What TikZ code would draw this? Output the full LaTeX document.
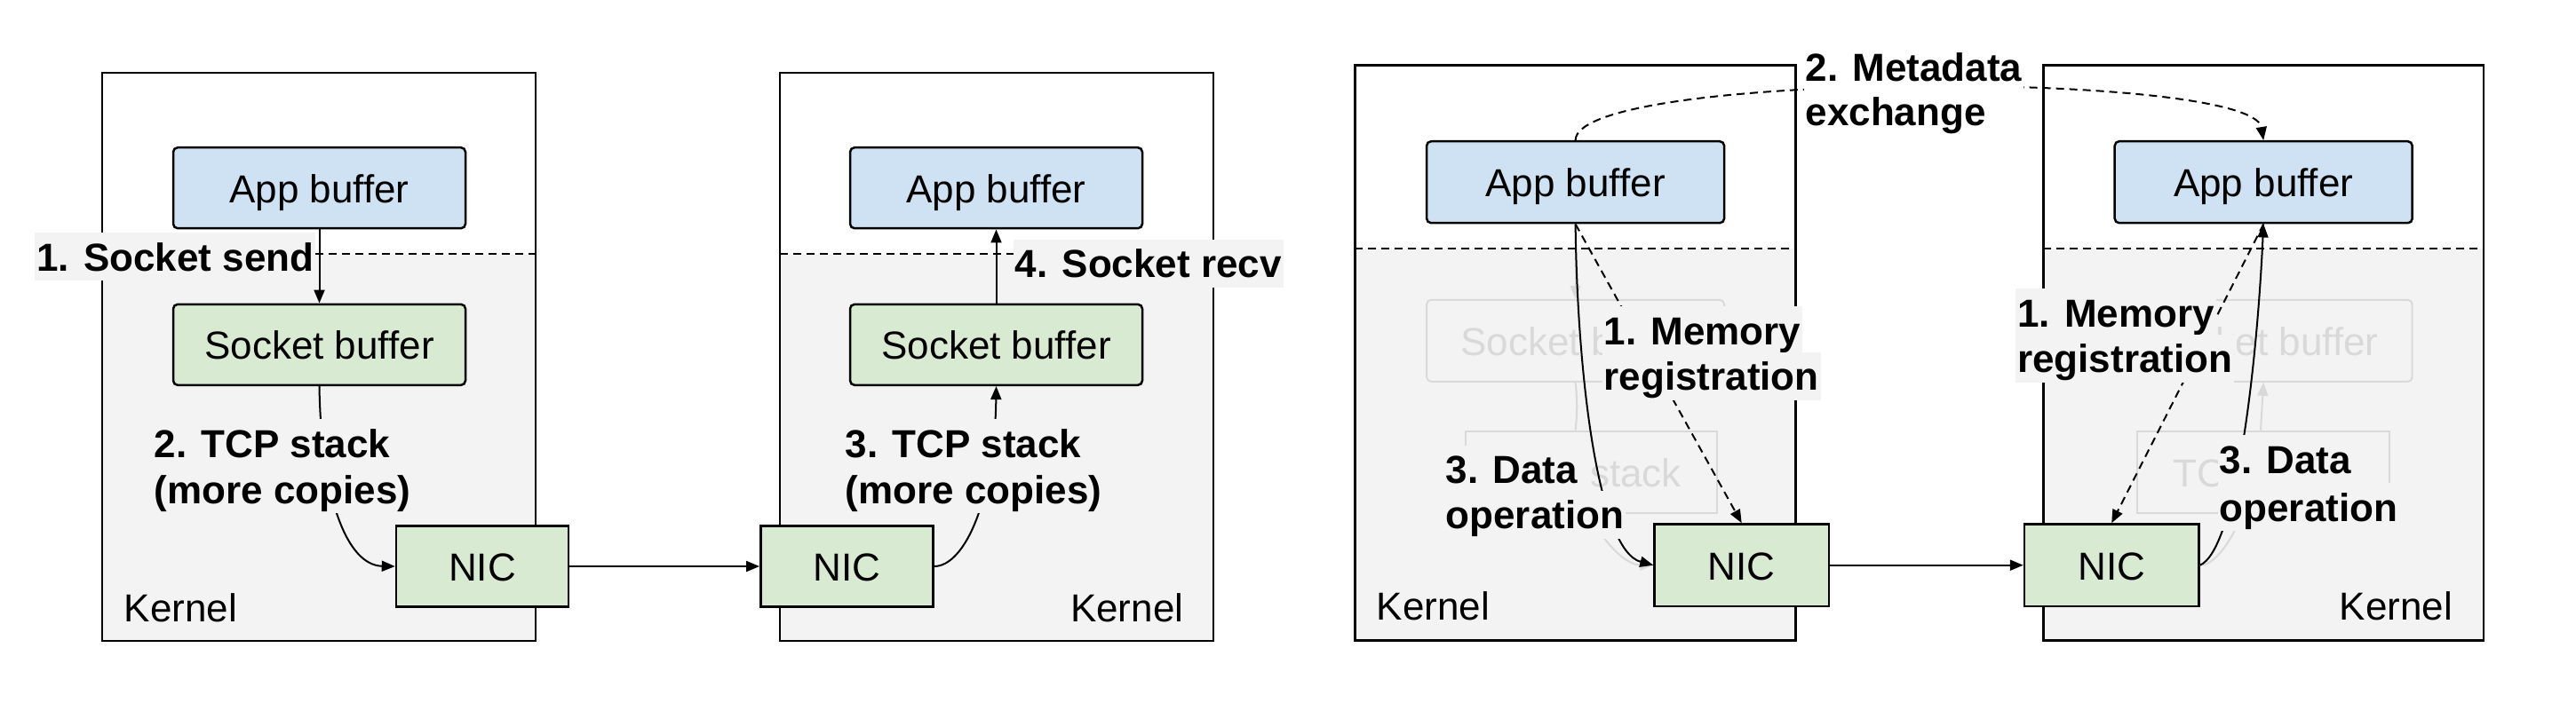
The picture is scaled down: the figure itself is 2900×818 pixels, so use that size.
\documentclass[tikz,border=0pt]{standalone}
\usepackage{fontspec}
\setmainfont{Liberation Sans}
\usetikzlibrary{arrows.meta}
\definecolor{kgray}{HTML}{F3F3F3}
\definecolor{appblue}{HTML}{CFE2F3}
\definecolor{nicgreen}{HTML}{D9EAD3}
\definecolor{fadec}{HTML}{D9D9D9}
\newcommand\fsz{\fontsize{13.2}{15.3}\selectfont}
\newcommand\kpanel[5]{%
  \fill[white] (#1,#2) rectangle (#3,#4);
  \fill[kgray] (#1,#5) rectangle (#3,#4);
  \draw[sepline] (#1,#5) -- (#3,#5);
  \draw[kframe] (#1,#2) rectangle (#3,#4);}
\begin{document}
\begin{tikzpicture}[x=0.3pt,y=-0.3pt,
  sepline/.style={line width=0.6pt, dash pattern=on 2.7pt off 1.8pt},
  kframe/.style={line width=0.75pt},
  bx/.style={draw=black, line width=0.75pt, inner sep=0pt, text height=12.6pt, text depth=2.7pt, font=\fsz},
  appbox/.style={bx, fill=appblue, rounded corners=1.5pt},
  sockbox/.style={bx, fill=nicgreen, rounded corners=1.5pt},
  nicbox/.style={bx, fill=nicgreen},
  fadebox/.style={bx, draw=fadec, text=fadec, line width=0.6pt},
  lbl/.style={font=\fsz\bfseries, anchor=base west, inner xsep=0.6pt, inner ysep=0pt, text height=12.9pt, text depth=3.3pt, fill=kgray},
  wlbl/.style={lbl, fill=white},
  klbl/.style={font=\fsz, inner sep=0pt},
  conn/.style={line width=0.6pt, -{Triangle[length=4.5pt,width=3.6pt]}},
  dconn/.style={conn, dash pattern=on 2.7pt off 1.8pt},
  fconn/.style={line width=0.6pt, draw=fadec},
  farrow/.style={fconn, -{Triangle[length=4.5pt,width=3.6pt]}},
  size12/.style={minimum width=98.7pt, minimum height=27.3pt},
  nic12/.style={minimum width=58.2pt, minimum height=27.3pt},
  size34/.style={minimum width=100.5pt, minimum height=27.6pt},
  nic34/.style={minimum width=58.9pt, minimum height=27.75pt},
  tcp34/.style={minimum width=85pt, minimum height=27.75pt}
]
\useasboundingbox (0,0) rectangle (2900,818);

% kernel panels
\kpanel{115}{82}{603}{722}{285.5}
\kpanel{878}{82}{1366}{722}{285.5}
\kpanel{1525.4}{73.5}{2021.4}{721.7}{279.7}
\kpanel{2300.4}{73.5}{2796}{721.7}{279.7}

% faded boxes (panels 3, 4)
\node[fadebox, size34, rounded corners=1.5pt] (sb3) at (1773.6,383.8) {Socket buffer};
\node[fadebox, tcp34] (tcp3) at (1791.3,531.8) {TCP stack};
\node[fadebox, size34, rounded corners=1.5pt] (sb4) at (2548.2,383.8) {Socket buffer};
\node[fadebox, tcp34] (tcp4) at (2548,531.8) {TCP stack};

% panel 1
\node[appbox, size12] (ab1) at (359.5,211.7) {App buffer};
\node[sockbox, size12] (sb1) at (359.5,388.3) {Socket buffer};
\node[nicbox, nic12] (nic1) at (543,638) {NIC};
\node[klbl, anchor=base west] (kl1) at (139,700) {Kernel};

% panel 2
\node[appbox, size12] (ab2) at (1121.5,211.7) {App buffer};
\node[sockbox, size12] (sb2) at (1121.5,388.3) {Socket buffer};
\node[nicbox, nic12] (nic2) at (953.3,638) {NIC};
\node[klbl, anchor=base east] (kl2) at (1333,700) {Kernel};

% panel 3
\node[appbox, size34] (ab3) at (1773.6,205.2) {App buffer};
\node[nicbox, nic34] (nic3) at (1960.7,636.7) {NIC};
\node[klbl, anchor=base west] (kl3) at (1549,698.5) {Kernel};

% panel 4
\node[appbox, size34] (ab4) at (2548.2,205.2) {App buffer};
\node[nicbox, nic34] (nic4) at (2377.2,636.7) {NIC};
\node[klbl, anchor=base east] (kl4) at (2761.6,698.5) {Kernel};

% faded connectors
\draw[farrow] (ab3.south) -- (sb3.north);
\draw[fconn] (sb3.south) to[bend left=6] (sb3.south |- tcp3.north);
\draw[farrow] (tcp3.south) .. controls +(9,27) and +(-32,0) .. (nic3.west);
\draw[fconn] (nic4.east) .. controls +(20,0) and +(-10,22) .. ([xshift=-6.9pt]tcp4.south);
\draw[farrow] ([xshift=-0.9pt]tcp4.north) -- (sb4.south);

% connectors panels 1-2
\draw[conn] (ab1.south) -- (sb1.north);
\draw[conn] (sb1.south) .. controls +(2,126) and +(-54,-1) .. (nic1.west);
\draw[conn] (nic1.east) -- (nic2.west);
\draw[conn] (nic2.east) .. controls +(35,0) and +(-1.5,126) .. (sb2.south);
\draw[conn] (sb2.north) -- (ab2.south);

% connectors panels 3-4
\draw[dconn] (ab3.north) .. controls +(1.4,-79) and +(-13,-79) .. (ab4.north);
\draw[conn] (ab3.south) .. controls +(2,169) and +(-62.5,-16.7) .. (nic3.west);
\draw[dconn] (ab3.south) -- (nic3.north);
\draw[conn] (nic3.east) -- (nic4.west);
\draw[dconn] (ab4.south) -- (nic4.north);
\draw[conn] (nic4.east) .. controls +(39.6,-16.7) and +(-8,169) .. (ab4.south);

% labels
\node[lbl] (l1a) at (38.5,305) {1. Socket send};
\node[lbl] (l2a) at (171,515) {2. TCP stack};
\node[lbl] (l2b) at (171,567) {(more copies)};
\node[lbl] (l3a) at (949,515) {3. TCP stack};
\node[lbl] (l3b) at (949,567) {(more copies)};
\node[lbl] (l4a) at (1140,312.8) {4. Socket recv};

\node[lbl] (m3a) at (1803,388) {1. Memory};
\node[lbl] (m3b) at (1803,439.5) {registration};
\node[lbl] (d3a) at (1625,544.6) {3. Data};
\node[lbl] (d3b) at (1625,595.8) {operation};
\node[lbl] (m4a) at (2268.5,368) {1. Memory};
\node[lbl] (m4b) at (2268.5,419.5) {registration};
\node[lbl] (d4a) at (2496,533) {3. Data};
\node[lbl] (d4b) at (2496,587) {operation};
\node[wlbl] (x1a) at (2030,91.7) {2. Metadata};
\node[wlbl] (x1b) at (2030,141.7) {exchange};
\end{tikzpicture}
\end{document}
